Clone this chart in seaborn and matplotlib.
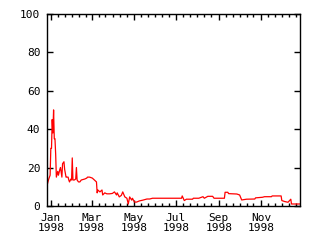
import matplotlib
matplotlib.use("Agg")
import matplotlib.pyplot as plt
import matplotlib.dates as mdates
import seaborn as sns
import pandas as pd

dates = [
    "1997-12-27", "1997-12-29", "1997-12-31", "1998-01-01", "1998-01-02", "1998-01-03",
    "1998-01-04", "1998-01-05",
    "1998-01-06", "1998-01-07", "1998-01-08", "1998-01-09", "1998-01-11", "1998-01-12", "1998-01-14",
    "1998-01-15", "1998-01-17", "1998-01-18", "1998-01-20", "1998-01-21", "1998-01-23",
    "1998-01-24", "1998-01-26", "1998-01-27", "1998-01-28", "1998-01-30", "1998-01-31",
    "1998-02-01", "1998-02-02", "1998-02-04", "1998-02-06", "1998-02-07", "1998-02-08",
    "1998-02-10", "1998-02-12", "1998-02-14", "1998-02-19", "1998-02-22", "1998-02-23",
    "1998-02-26", "1998-03-02", "1998-03-05", "1998-03-08", "1998-03-09", "1998-03-10",
    "1998-03-13", "1998-03-16", "1998-03-17", "1998-03-20", "1998-03-23", "1998-03-27",
    "1998-03-31", "1998-04-03", "1998-04-06", "1998-04-07", "1998-04-10", "1998-04-13",
    "1998-04-15", "1998-04-18", "1998-04-21", "1998-04-23", "1998-04-25", "1998-04-28",
    "1998-04-29", "1998-05-02", "1998-05-05", "1998-05-09", "1998-05-14", "1998-05-20",
    "1998-05-24", "1998-05-28", "1998-06-07", "1998-07-09", "1998-07-10", "1998-07-13",
    "1998-07-16", "1998-07-25", "1998-07-26", "1998-08-03", "1998-08-09", "1998-08-11",
    "1998-08-16", "1998-08-23", "1998-08-25", "1998-09-09", "1998-09-10", "1998-09-14",
    "1998-09-15", "1998-09-27", "1998-10-01", "1998-10-04", "1998-10-11", "1998-10-23",
    "1998-10-24", "1998-11-03", "1998-11-06", "1998-11-16", "1998-11-17", "1998-11-30",
    "1998-12-01", "1998-12-05", "1998-12-10", "1998-12-14", "1998-12-15", "1998-12-16",
    "1998-12-28",
]
values = [
    11.3, 14.0, 16.0, 30.0, 30.0, 45.0,
    38.0, 50.0,
    35.0, 35.0, 27.0, 15.0, 18.0, 16.0, 19.0,
    20.0, 15.0, 22.0, 23.0, 19.0, 15.0,
    15.0, 15.0, 13.5, 12.5, 14.0, 13.5,
    25.0, 13.5, 13.5, 14.0, 20.0, 13.5,
    12.5, 12.5, 13.5, 14.0, 14.5, 15.0,
    15.0, 14.5, 13.5, 12.5, 6.8, 8.3,
    7.3, 8.3, 5.7, 6.8, 6.3, 6.3,
    6.5, 7.3, 5.7, 6.8, 4.7, 5.5,
    7.3, 4.7, 4.0, 1.0, 4.7, 3.0,
    4.0, 2.0, 2.0, 2.6, 3.0, 3.6,
    3.6, 4.0, 4.0, 4.0, 5.2, 2.8,
    3.5, 3.5, 4.0, 4.0, 4.8, 4.0,
    5.0, 5.0, 4.0, 4.0, 7.1, 7.1,
    6.4, 6.2, 5.7, 3.1, 3.5, 3.6,
    4.2, 4.5, 4.8, 4.8, 5.2, 5.2,
    2.8, 2.3, 1.9, 3.5, 1.0, 1.0,
    1.0,
]

yticks = [0, 20, 40, 60, 80, 100]

df = pd.DataFrame({"date": pd.to_datetime(dates), "value": values})

plt.rcParams["font.family"] = ["DejaVu Sans Mono"]
plt.rcParams["font.size"] = 8

fig = plt.figure(figsize=(3.2, 2.4), dpi=100)
ax = fig.add_axes([0.148, 0.142, 0.791, 0.800])
sns.lineplot(data=df, x="date", y="value", color="#ff0000", lw=0.9, ax=ax)

ax.set_xlim(df["date"].iloc[0], df["date"].iloc[-1])
ax.set_ylim(0, 100)
ax.set_yticks(yticks)
ax.set_xlabel("")
ax.set_ylabel("")

ax.xaxis.set_major_locator(mdates.MonthLocator(bymonth=[1, 3, 5, 7, 9, 11]))
ax.xaxis.set_major_formatter(mdates.DateFormatter("%b\n%Y"))
ax.xaxis.set_minor_locator(mdates.DayLocator(bymonthday=[1, 11, 21]))

for s in ax.spines.values():
    s.set_linewidth(1.0)
    s.set_color("black")

ax.tick_params(axis="both", which="major", direction="in", length=4.5, width=1.0,
               top=True, right=True, colors="black", pad=5)
ax.tick_params(axis="x", which="minor", direction="in", length=2.2, width=1.0,
               top=True, bottom=True)
for lbl in ax.get_xticklabels():
    lbl.set_linespacing(1.0)

fig.savefig("out.png", dpi=100)
